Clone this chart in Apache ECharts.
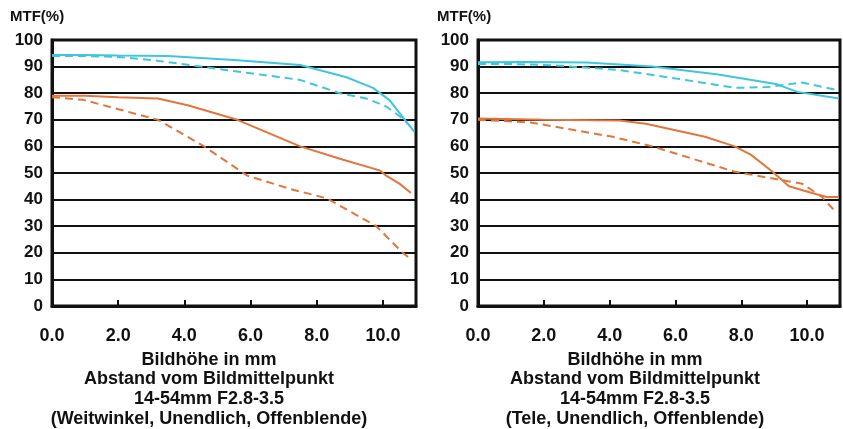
<!DOCTYPE html>
<html>
<head>
<meta charset="utf-8">
<script src="https://cdn.jsdelivr.net/npm/echarts@6/dist/echarts.min.js"></script>
<style>
html,body{margin:0;padding:0;background:#fff;}
#c{width:843px;height:429px;}
</style>
</head>
<body>
<div id="c"></div>
<script>
// ---- tick labels ----
const xTickLabels = ['0.0', '2.0', '4.0', '6.0', '8.0', '10.0'];
const yTickLabels = ['0', '10', '20', '30', '40', '50', '60', '70', '80', '90', '100'];

// ---- left chart (Weitwinkel) ----
const wCyanSolidX = [0, 1.0, 2.0, 3.5, 5.5, 7.5, 8.9, 9.7, 10.2, 10.6, 10.95];
const wCyanSolidY = [94.4, 94.4, 94.2, 94, 92.5, 90.6, 86, 82, 77.4, 71, 65.5];
const wCyanDashX = [0, 1, 2, 3, 4.5, 6, 7.5, 8.7, 9.5, 10.1, 10.6, 10.95];
const wCyanDashY = [94, 94, 93.6, 92.5, 90, 87.5, 85, 80, 78, 75, 70.5, 66];
const wOrangeSolidX = [0, 1, 2, 3.2, 4.1, 5.6, 7.5, 8.8, 9.9, 10.1, 10.5, 10.85];
const wOrangeSolidY = [79, 79, 78.5, 78, 75.5, 70, 60, 55, 51, 49, 46, 42.5];
const wOrangeDashX = [0, 0.95, 2, 3.2, 4.6, 5.9, 7.2, 8.3, 9.8, 10.6, 10.8];
const wOrangeDashY = [78.5, 77.5, 74, 70, 60, 49, 44, 40.5, 30, 20, 18];

// ---- right chart (Tele) ----
const tCyanSolidX = [0, 1.5, 3.3, 5.3, 7.3, 9.05, 9.7, 10.97];
const tCyanSolidY = [91.6, 91.7, 91.5, 90, 87, 83.5, 80.5, 78];
const tCyanDashX = [0, 1, 2.3, 4.3, 6.3, 7.8, 8.8, 9.85, 10.97];
const tCyanDashY = [91, 91, 90.5, 88.7, 85, 82, 82.3, 84, 81];
const tOrangeSolidX = [0, 2, 4.3, 5.1, 6.9, 7.8, 8.3, 8.95, 9.45, 10.15, 10.6, 10.97];
const tOrangeSolidY = [70.5, 70, 69.7, 68.5, 63.6, 60, 56.8, 50.5, 45, 42.5, 41, 41];
const tOrangeDashX = [0, 1.6, 4.1, 5.3, 7.8, 9.15, 9.85, 10.45, 10.9];
const tOrangeDashY = [70, 69, 63.6, 60, 50.5, 47.5, 46, 41, 35];

const captionLeft = 'Bildhöhe in mm\nAbstand vom Bildmittelpunkt\n14-54mm F2.8-3.5\n(Weitwinkel, Unendlich, Offenblende)';
const captionRight = 'Bildhöhe in mm\nAbstand vom Bildmittelpunkt\n14-54mm F2.8-3.5\n(Tele, Unendlich, Offenblende)';

const CYAN = '#3ec6de';
const ORANGE = '#e2763a';
const FONT = '"Liberation Sans", Arial, sans-serif';

function pairs(xs, ys) { return xs.map((x, i) => [x, ys[i]]); }

function xAxis(gi) {
  return {
    type: 'value', gridIndex: gi, min: 0, max: 11, interval: 2,
    axisLine: { show: true, lineStyle: { color: '#111', width: 3 } },
    axisTick: { show: true, inside: true, length: 6, lineStyle: { color: '#111', width: 2 } },
    axisLabel: {
      margin: 21, color: '#111', fontFamily: FONT, fontWeight: 'bold', fontSize: 18,
      formatter: v => (v % 2 === 0 && v / 2 < xTickLabels.length) ? xTickLabels[v / 2] : ''
    },
    splitLine: { show: false }
  };
}
function yAxis(gi) {
  return {
    type: 'value', gridIndex: gi, min: 0, max: 100, interval: 10,
    axisLine: { show: true, lineStyle: { color: '#111', width: 3 } },
    axisTick: { show: false },
    axisLabel: {
      margin: 9, color: '#111', fontFamily: FONT, fontWeight: 'bold', fontSize: 17,
      formatter: v => yTickLabels[Math.round(v / 10)]
    },
    splitLine: { show: true, lineStyle: { color: '#111', width: 2 } }
  };
}
function line(gi, xs, ys, color, dashed) {
  return {
    type: 'line', xAxisIndex: gi, yAxisIndex: gi, data: pairs(xs, ys),
    showSymbol: false, symbol: 'none', smooth: false, z: 5,
    lineStyle: { color: color, width: 2, type: dashed ? [8, 5] : 'solid' }
  };
}

const chart = echarts.init(document.getElementById('c'), null, { renderer: 'canvas' });
chart.setOption({
  animation: false,
  backgroundColor: '#fff',
  grid: [
    { left: 52, width: 364, top: 40, height: 266, show: true, borderColor: '#111', borderWidth: 3, backgroundColor: 'transparent' },
    { left: 478, width: 363, top: 40, height: 266, show: true, borderColor: '#111', borderWidth: 3, backgroundColor: 'transparent' }
  ],
  xAxis: [xAxis(0), xAxis(1)],
  yAxis: [yAxis(0), yAxis(1)],
  series: [
    line(0, wCyanDashX, wCyanDashY, CYAN, true),
    line(0, wCyanSolidX, wCyanSolidY, CYAN, false),
    line(0, wOrangeDashX, wOrangeDashY, ORANGE, true),
    line(0, wOrangeSolidX, wOrangeSolidY, ORANGE, false),
    line(1, tCyanDashX, tCyanDashY, CYAN, true),
    line(1, tCyanSolidX, tCyanSolidY, CYAN, false),
    line(1, tOrangeDashX, tOrangeDashY, ORANGE, true),
    line(1, tOrangeSolidX, tOrangeSolidY, ORANGE, false)
  ],
  graphic: [
    { type: 'text', left: 10, top: 9, style: { text: 'MTF(%)', font: 'bold 15px ' + FONT, fill: '#111' } },
    { type: 'text', left: 437, top: 9, style: { text: 'MTF(%)', font: 'bold 15px ' + FONT, fill: '#111' } },
    { type: 'text', x: 209, y: 350, style: { text: captionLeft, font: 'bold 18px ' + FONT, fill: '#111', align: 'center', lineHeight: 19.6 } },
    { type: 'text', x: 635, y: 350, style: { text: captionRight, font: 'bold 18px ' + FONT, fill: '#111', align: 'center', lineHeight: 19.6 } }
  ]
});
</script>
</body>
</html>
